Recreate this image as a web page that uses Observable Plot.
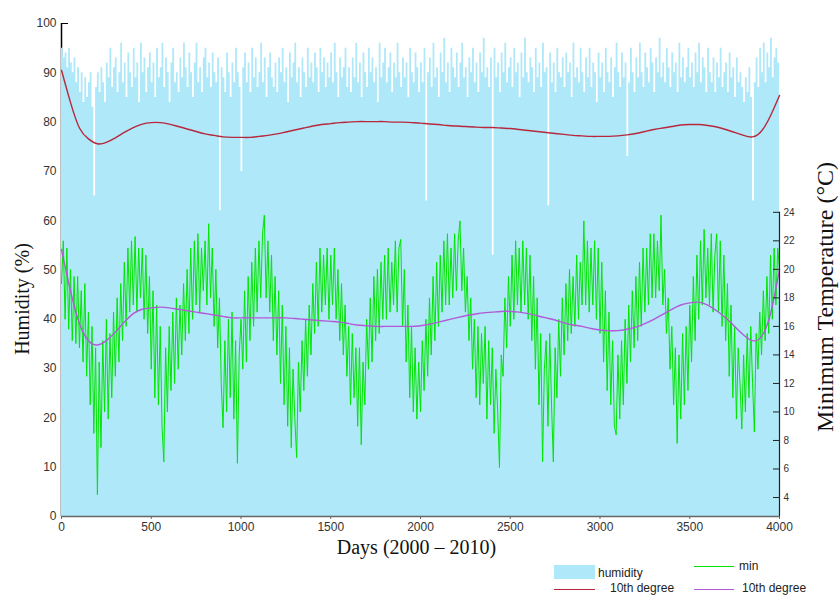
<!DOCTYPE html>
<html><head><meta charset="utf-8">
<script src="https://cdn.jsdelivr.net/npm/d3@7"></script>
<script src="https://cdn.jsdelivr.net/npm/@observablehq/plot@0.6"></script>
<style>
body{margin:0;background:#fff;}
#wrap{position:relative;width:839px;height:596px;overflow:hidden;}
.lg{position:absolute;font-family:"Liberation Sans",Arial,sans-serif;font-size:12px;line-height:14px;color:#222;white-space:nowrap;}
.sw{position:absolute;}
</style></head><body><div id="wrap"></div>
<script>
// ---- data ----
const humidityStepDays = 10; // one value every 10 days, day 0..4000
const humidity = [
95,93,94,91,95,92,90,93,88,91,
86,90,84,89,85,88,90,83,65,87,
90,86,91,88,84,92,89,95,87,91,
93,86,90,96,88,92,85,94,90,87,
95,89,92,84,96,90,93,86,91,94,
88,92,85,95,89,91,96,87,93,90,
84,92,95,88,90,86,93,89,96,91,
87,94,90,85,92,96,88,91,86,93,
95,89,92,87,94,90,88,93,62,91,
89,86,94,90,85,92,88,95,90,87,
70,91,94,88,92,86,95,89,93,87,
90,96,88,93,85,91,94,89,87,92,
86,93,90,95,88,91,84,94,89,92,
96,88,91,85,93,90,87,95,89,92,
88,94,91,86,95,90,93,87,92,89,
94,88,96,90,85,93,89,91,95,87,
91,86,93,89,96,88,92,85,94,90,
87,95,90,93,88,91,84,96,89,92,
95,88,91,94,86,92,89,96,90,87,
93,89,92,85,95,90,88,94,91,86,
92,88,95,64,90,93,87,96,89,91,
85,94,90,97,88,92,86,95,91,89,
94,87,92,96,89,91,85,93,90,95,
88,92,86,94,90,97,89,91,87,93,
53,95,89,92,86,94,90,96,88,91,
93,87,95,90,92,85,94,89,97,90,
88,93,91,86,95,89,92,87,96,90,
91,63,94,88,92,86,95,90,89,93,
87,94,90,92,85,96,89,91,88,95,
90,86,93,89,95,87,92,90,84,94,
89,92,86,95,90,88,93,85,91,96,
90,87,94,89,92,73,88,95,90,86,
93,89,96,90,87,94,91,88,95,92,
86,93,90,97,89,92,88,95,91,87,
94,90,92,86,96,89,93,88,91,95,
89,92,87,94,90,96,88,93,91,86,
95,90,88,93,86,92,89,95,87,90,
92,86,94,89,91,85,93,88,90,87,
84,89,86,91,85,64,88,93,87,95,
90,96,88,94,91,97,89,93,95,92,
94
];

const minTempStepDays = 10; // °C, one value every 10 days, day 0..4000
const minTemp = [
19.0,22.0,16.5,21.5,15.8,20.0,15.0,19.5,14.8,19.5,
14.5,18.5,13.5,19.0,12.5,17.0,10.5,16.0,8.5,14.5,
4.2,13.5,7.5,15.0,10.0,16.5,9.5,15.5,11.0,17.0,
12.5,18.0,13.5,19.0,15.0,20.5,16.0,21.5,17.0,22.0,
17.5,22.3,17.0,21.5,18.0,21.5,16.5,21.0,15.5,19.5,
13.0,18.5,11.0,17.5,10.5,16.0,9.0,6.5,14.5,10.0,
16.0,11.5,17.0,12.0,18.0,13.0,17.5,14.0,19.0,15.0,
20.0,15.5,21.5,16.5,22.0,17.5,22.5,17.0,21.5,18.5,
22.0,17.5,23.2,18.0,21.5,16.0,20.0,14.5,18.0,12.0,
8.9,15.0,10.0,16.5,11.0,17.0,9.5,15.0,6.4,14.0,
16.5,13.0,18.5,13.5,19.5,15.0,20.5,16.0,21.5,17.0,
22.0,18.0,22.5,23.8,18.0,22.0,17.0,21.0,15.0,19.5,
14.0,18.5,12.0,17.5,10.5,16.0,9.0,14.5,7.5,13.0,
9.5,6.8,13.5,10.0,15.0,11.5,16.5,12.5,17.5,14.0,
19.0,15.5,20.5,16.0,21.5,17.0,21.0,17.5,21.5,16.5,
21.0,17.5,21.5,16.5,20.0,15.0,19.0,14.0,17.5,12.5,
16.0,10.5,15.5,11.0,14.5,9.0,14.5,7.7,13.5,10.5,
16.5,13.0,18.0,13.5,19.5,15.0,20.0,15.5,20.5,16.5,
21.0,16.5,21.5,17.0,20.5,17.5,22.0,17.0,21.5,22.1,
16.0,20.0,13.5,17.5,11.0,16.0,10.0,14.5,9.5,13.5,
10.0,15.0,11.5,16.5,12.5,18.0,14.0,19.5,15.0,20.5,
16.0,21.0,17.0,22.0,17.5,22.5,17.5,21.5,18.0,22.5,
18.5,22.0,23.4,18.5,21.5,17.0,19.5,15.0,18.0,13.0,
16.5,11.0,16.0,10.5,15.5,12.0,16.0,9.5,15.0,10.5,
14.5,8.5,13.0,10.0,6.1,14.0,12.5,18.0,14.5,19.5,
16.0,21.0,16.5,22.0,17.5,21.5,17.0,22.0,17.5,21.5,
16.5,21.0,15.0,19.5,13.0,18.0,10.5,15.5,6.5,13.0,
15.0,9.0,15.5,10.5,6.5,14.5,11.0,16.5,12.5,18.0,
14.0,19.0,15.0,20.0,15.5,19.5,16.0,21.0,16.5,20.5,
17.5,23.4,17.5,22.0,17.0,21.5,17.5,22.0,16.5,21.5,
15.5,20.5,13.5,18.5,11.5,17.0,10.5,15.0,9.0,8.4,
14.0,9.5,15.0,10.5,16.5,12.0,17.5,13.5,18.5,14.5,
19.5,15.0,20.5,16.0,21.5,17.0,21.5,17.5,22.5,18.0,
22.5,18.0,22.0,18.5,23.8,17.5,20.0,15.5,18.0,13.0,
16.0,10.5,14.5,7.8,14.0,9.5,15.5,10.5,16.0,11.5,
17.5,13.5,19.5,15.0,21.0,16.5,22.0,17.5,22.8,18.0,
21.5,17.5,22.5,17.0,21.0,22.5,17.0,22.0,16.0,21.0,
15.0,19.0,12.5,17.5,11.0,16.0,9.5,14.5,12.0,8.8,
14.0,10.0,15.5,11.0,16.0,12.0,8.6,15.5,13.0,17.0,
14.0,18.5,15.0,19.5,15.5,21.0,16.5,21.5,17.5,21.5,
20.0
];

const fitStepDays = 50; // 10th degree fits, one value every 50 days
const humidityFit = [
90.5,84.0,78.8,76.6,75.6,75.9,76.8,77.9,78.9,79.6,
79.9,79.9,79.6,79.1,78.6,78.1,77.6,77.3,77.0,76.9,
76.9,76.9,77.1,77.3,77.6,78.0,78.4,78.8,79.2,79.5,
79.7,79.9,80.0,80.1,80.1,80.1,80.1,80.0,80.0,79.9,
79.8,79.6,79.5,79.3,79.2,79.1,79.0,78.9,78.9,78.8,
78.7,78.5,78.3,78.1,77.9,77.7,77.5,77.3,77.2,77.1,
77.1,77.1,77.2,77.4,77.7,78.1,78.5,78.8,79.1,79.4,
79.5,79.5,79.3,79.0,78.5,77.9,77.3,77.0,78.2,81.3,
85.4
];
const minTempFit = [
21.4,18.5,16.2,15.0,14.7,15.0,15.6,16.3,16.9,17.2,
17.3,17.35,17.3,17.2,17.1,17.0,16.9,16.8,16.7,16.6,
16.6,16.6,16.6,16.6,16.6,16.6,16.55,16.5,16.45,16.4,
16.35,16.3,16.2,16.1,16.05,16.0,16.0,16.0,16.0,16.0,
16.05,16.15,16.3,16.45,16.6,16.75,16.85,16.95,17.0,17.05,
17.05,17.0,16.9,16.75,16.6,16.45,16.25,16.1,16.0,15.85,
15.75,15.7,15.7,15.8,15.95,16.2,16.5,16.85,17.2,17.5,
17.65,17.7,17.5,17.1,16.6,16.0,15.4,15.0,15.3,16.9,
20.0
];

const dayTicks = [0,500,1000,1500,2000,2500,3000,3500,4000];
const humidityTicks = [0,10,20,30,40,50,60,70,80,90,100];
const tempTicks = [4,6,8,10,12,14,16,18,20,22,24];
// right-axis calibration: temperature 4..24 °C sits at humidity 3.85..61.7 on the left scale
const tempAxisDomain = [4,24];
const tempAxisOnHumidity = [3.85,61.7];

// ---- build ----
const toH = d3.scaleLinear(tempAxisDomain, tempAxisOnHumidity);
const humRows = humidity.map((v,i)=>({day:i*humidityStepDays, v}));
const tempRows = minTemp.map((v,i)=>({day:i*minTempStepDays, v}));
const humFitRows = humidityFit.map((v,i)=>({day:i*fitStepDays, v}));
const tempFitRows = minTempFit.map((v,i)=>({day:i*fitStepDays, v}));

const BLUE = "#aee8f9", RED = "#b8283c", GREEN = "#00e600", MAG = "#b25ad6";
const serif = "Liberation Serif, Times New Roman, serif";

const chart = Plot.plot({
  width: 839, height: 596,
  marginLeft: 61, marginRight: 60, marginTop: 23, marginBottom: 80,
  style: {fontFamily: "Liberation Sans, Arial, sans-serif", fontSize: "12px", background: "white", overflow: "visible"},
  x: {domain: [0, 4000]},
  y: {domain: [0, 100]},
  marks: [
    Plot.ruleX([0], {y1: humidityTicks[0], y2: humidityTicks[humidityTicks.length-1], stroke: "#000", strokeWidth: 1.5}),
    Plot.axisY({anchor: "left", ticks: humidityTicks, tickSize: -7, tickPadding: 12, stroke: "#000", fill: "#333", fontSize: 12, label: null}),
    Plot.areaY(humRows, {x: "day", y: "v", curve: "step-after", fill: BLUE}),
    Plot.line(humFitRows, {x: "day", y: "v", curve: "natural", stroke: RED, strokeWidth: 1.4}),
    Plot.line(tempRows, {x: "day", y: d => toH(d.v), stroke: GREEN, strokeWidth: 1}),
    Plot.line(tempFitRows, {x: "day", y: d => toH(d.v), curve: "natural", stroke: MAG, strokeWidth: 1.4}),
    Plot.ruleY([humidityTicks[0]], {stroke: "#666", strokeWidth: 1.5}),
    Plot.axisX({ticks: dayTicks, tickFormat: d => String(d), tickSize: 3, tickPadding: 3, stroke: "#666", fill: "#333", fontSize: 12, label: null}),
    Plot.ruleX([4000], {y1: humidityTicks[0], y2: toH(tempTicks[tempTicks.length-1]), stroke: "#222", strokeWidth: 1.2}),
    Plot.axisY({anchor: "right", ticks: tempTicks.map(t => toH(t)), tickFormat: h => String(Math.round(toH.invert(h))), tickSize: -7, tickPadding: 11, stroke: "#222", fill: "#333", fontSize: 10, label: null}),
    Plot.text(["Humidity (%)"], {frameAnchor: "left", textAnchor: "middle", rotate: -90, dx: -39, dy: 29, fontSize: 20, fontFamily: serif, fill: "#111"}),
    Plot.text(["Minimum Temperature (°C)"], {frameAnchor: "right", textAnchor: "middle", rotate: -90, dx: 46, dy: 27, fontSize: 24, fontFamily: serif, fill: "#111"}),
    Plot.text(["Days (2000 \u2013 2010)"], {frameAnchor: "bottom", textAnchor: "middle", dx: -4, dy: 37, fontSize: 20, fontFamily: serif, fill: "#111"})
  ]
});
const wrap = document.getElementById("wrap");
wrap.appendChild(chart);

// legend (below the plot frame, bottom right)
function add(html){ wrap.insertAdjacentHTML("beforeend", html); }
add(`<div class="sw" style="left:554px;top:565px;width:41px;height:14px;background:${BLUE}"></div>`);
add(`<div class="lg" style="left:598px;top:566px">humidity</div>`);
add(`<div class="sw" style="left:554px;top:589px;width:41px;height:0;border-top:1.5px solid ${RED}"></div>`);
add(`<div class="lg" style="left:610px;top:581px">10th degree</div>`);
add(`<div class="sw" style="left:694px;top:566px;width:40px;height:0;border-top:1.5px solid ${GREEN}"></div>`);
add(`<div class="lg" style="left:739px;top:559px">min</div>`);
add(`<div class="sw" style="left:694px;top:589px;width:40px;height:0;border-top:1.5px solid ${MAG}"></div>`);
add(`<div class="lg" style="left:742px;top:581px">10th degree</div>`);
</script></body></html>
